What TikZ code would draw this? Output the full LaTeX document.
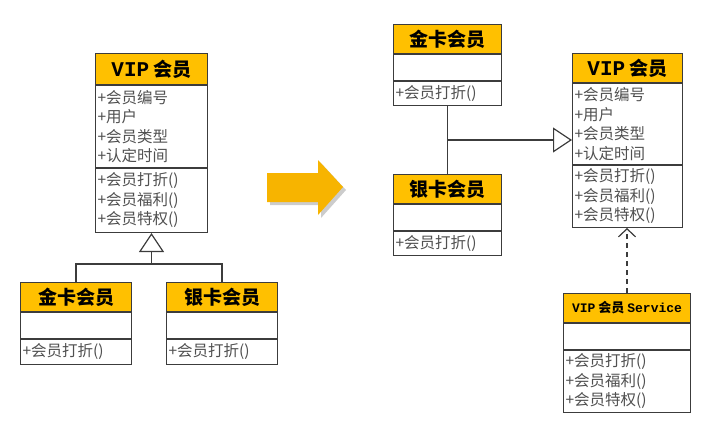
\documentclass[tikz,border=0pt]{standalone}
\usepackage{fontspec}
\setmainfont{Liberation Serif}
\newfontfamily\cjk{Noto Sans CJK SC}
\newfontfamily\mono{Liberation Mono}
\usepackage{tikz}
\usetikzlibrary{
  arrows.meta,
  positioning,
  calc
}

\definecolor{hdrgold}{RGB}{255,192,0}
\definecolor{arrowgold}{RGB}{247,180,0}
\definecolor{linegray}{RGB}{60,60,60}
\definecolor{textgray}{RGB}{80,80,80}

\tikzset{
  hdr/.style={draw=linegray, line width=1pt, fill=hdrgold, inner sep=0pt,
    anchor=north west, font=\cjk\bfseries\fontsize{19}{22}\selectfont},
  sect/.style={draw=linegray, line width=1pt, fill=white, inner xsep=2pt,
    inner ysep=0pt, text width=#1, align=left, text=textgray,
    font=\cjk\fontsize{15.5}{19.5}\selectfont},
  conn/.style={draw=linegray, line width=1.2pt},
  inherit/.style={conn, -{Triangle[open, length=19pt, width=25pt, fill=white]}},
  depend/.style={conn, dashed, dash pattern=on 5pt off 4pt,
    -{Straight Barb[length=8pt, width=17pt]}}
}

\begin{document}
\begin{tikzpicture}[x=1pt, y=-1pt]
\useasboundingbox (0,0) rectangle (708,422);

% left side: inheritance
\node[hdr, minimum width=112pt, minimum height=31pt] (lviph) at (95,53) {{\mono\bfseries\fontsize{21}{22}\selectfont VIP} 会员};
\node[sect=108pt, minimum height=82pt, below=0pt of lviph] (lvipa) {+会员编号\\+用户\\+会员类型\\+认定时间};
\node[sect=108pt, minimum height=64pt, below=0pt of lvipa] (lvipm) {+会员打折()\\+会员福利()\\+会员特权()};

\node[hdr, minimum width=111pt, minimum height=29pt] (lgoldh) at (20,282) {金卡会员};
\node[sect=107pt, minimum height=26pt, below=0pt of lgoldh] (lgolde) {};
\node[sect=107pt, minimum height=25pt, below=0pt of lgolde] (lgoldm) {+会员打折()};

\node[hdr, minimum width=111pt, minimum height=29pt] (lsilvh) at (166,282) {银卡会员};
\node[sect=107pt, minimum height=26pt, below=0pt of lsilvh] (lsilve) {};
\node[sect=107pt, minimum height=25pt, below=0pt of lsilve] (lsilvm) {+会员打折()};

\coordinate (ljoin) at ($(lvipm.south |- 0,264)$);
\draw[conn] (lgoldh.north) |- (ljoin) -| (lsilvh.north);
\draw[inherit] (ljoin) -- (lvipm.south);

% big arrow
\fill[black!20] (270,176) -- (321,176) -- (321,163) -- (346,190) -- (321,218) -- (321,205) -- (270,205) -- cycle;
\fill[arrowgold] (267,173) -- (318,173) -- (318,160) -- (343,187) -- (318,215) -- (318,202) -- (267,202) -- cycle;

% right side: service split
\node[hdr, minimum width=108pt, minimum height=29pt] (rgoldh) at (393,24) {金卡会员};
\node[sect=104pt, minimum height=26pt, below=0pt of rgoldh] (rgolde) {};
\node[sect=104pt, minimum height=24pt, below=0pt of rgolde] (rgoldm) {+会员打折()};

\node[hdr, minimum width=108pt, minimum height=29pt] (rsilvh) at (393,174) {银卡会员};
\node[sect=104pt, minimum height=26pt, below=0pt of rsilvh] (rsilve) {};
\node[sect=104pt, minimum height=24pt, below=0pt of rsilve] (rsilvm) {+会员打折()};

\node[hdr, minimum width=110pt, minimum height=29pt] (rviph) at (572,53) {{\mono\bfseries\fontsize{21}{22}\selectfont VIP} 会员};
\node[sect=106pt, minimum height=81pt, below=0pt of rviph] (rvipa) {+会员编号\\+用户\\+会员类型\\+认定时间};
\node[sect=106pt, minimum height=62pt, below=0pt of rvipa] (rvipm) {+会员打折()\\+会员福利()\\+会员特权()};

\node[hdr, minimum width=127pt, minimum height=29pt,
  font=\cjk\bfseries\fontsize{13}{16}\selectfont] (servh) at (563,293) {{\mono\bfseries VIP} 会员 {\mono\bfseries Service}};
\node[sect=123pt, minimum height=26pt, below=0pt of servh] (serve) {};
\node[sect=123pt, minimum height=62pt, below=0pt of serve] (servm) {+会员打折()\\+会员福利()\\+会员特权()};

\coordinate (rjoin) at ($(rgoldm.south |- 0,140)$);
\draw[conn] (rgoldm.south) -- (rsilvh.north);
\draw[inherit] (rjoin) -- (rvipa.west |- rjoin);
\draw[depend] (servh.north) -- (servh.north |- rvipm.south);

\end{tikzpicture}
\end{document}
